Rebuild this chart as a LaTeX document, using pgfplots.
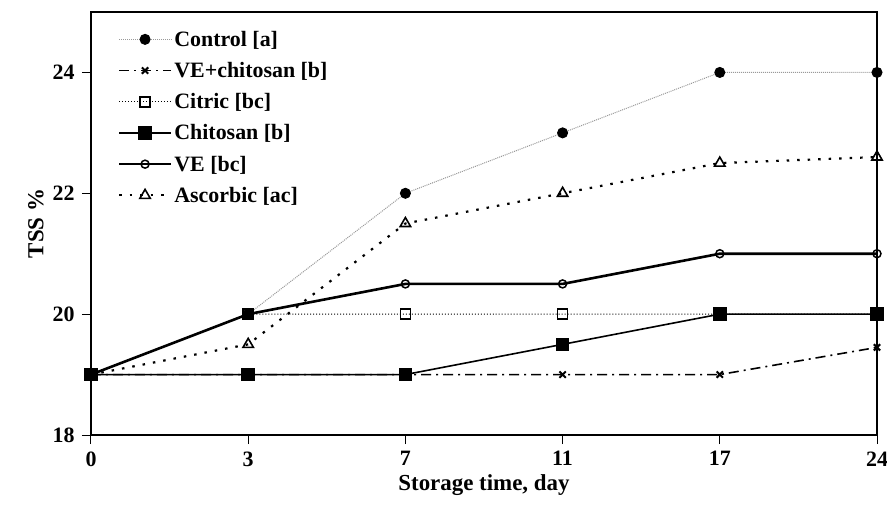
\documentclass[border=0pt]{standalone}
\usepackage{pgfplots}
\pgfplotsset{compat=1.18}
\usepackage{fontspec}
\setmainfont{Liberation Serif}

% TSS values per storage day (categories 0..5)
\pgfplotstableread{
x control vechit citric chitosan ve ascorbic
0 19 19    19 19   19   19
1 20 19    20 19   20   19.5
2 22 19    20 19   20.5 21.5
3 23 19    20 19.5 20.5 22
4 24 19    20 20   21   22.5
5 24 19.45 20 20   21   22.6
}\tss

\begin{document}
\begin{tikzpicture}
\begin{axis}[
  scale only axis,
  width=786bp, height=423bp,
  xmin=0, xmax=5, ymin=18, ymax=25,
  xtick={0,1,2,3,4,5},
  xticklabels={0,3,7,11,17,24},
  ytick={18,20,22,24},
  tick align=outside,
  xtick pos=bottom, ytick pos=left,
  major tick length=9bp,
  axis line style={line width=1.2bp},
  tick style={line width=1bp, black},
  font=\fontsize{23}{25}\selectfont\bfseries,
  /pgf/number format/assume math mode=true,
  tick label style={font=\fontsize{22}{24}\selectfont\bfseries},
  xticklabel style={yshift=-4bp},
  yticklabel style={xshift=-4bp},
  xlabel={Storage time, day},
  ylabel={TSS \%},
  xlabel style={yshift=-1bp},
  ylabel style={yshift=2bp},
  legend cell align=left,
  legend style={draw=none, fill=none, at={(0.03,0.965)}, anchor=north west,
    font=\fontsize{22}{24}\selectfont\bfseries, row sep=10.5bp,
    nodes={inner sep=2bp}},
  legend image code/.code={
    \draw[#1] (0bp,0bp) -- (26bp,0bp) -- (52bp,0bp);
    \draw[#1, draw=none] plot coordinates {(26bp,0bp)};
  },
]
\addplot[gray!80, line width=1bp, densely dotted, mark=*, mark size=5bp,
  mark options={solid, fill=black, draw=black}] table[x=x, y=control] {\tss};
\addlegendentry{Control [a]}
\addplot[black, line width=1.6bp, dash pattern=on 10bp off 5bp on 2bp off 5bp,
  mark=x, mark size=4.5bp, mark options={solid, line width=2bp}] table[x=x, y=vechit] {\tss};
\addlegendentry{VE+chitosan [b]}
\addplot[black, line width=1bp, dotted, mark=square, mark size=5bp,
  mark options={solid, fill=white, line width=1.5bp}] table[x=x, y=citric] {\tss};
\addlegendentry{Citric [bc]}
\addplot[black, line width=1.6bp, mark=square*, mark size=6bp,
  mark options={solid}] table[x=x, y=chitosan] {\tss};
\addlegendentry{Chitosan [b]}
\addplot[black, line width=2.6bp, mark=o, mark size=4bp,
  mark options={solid, fill=white, line width=1.5bp}] table[x=x, y=ve] {\tss};
\addlegendentry{VE [bc]}
\addplot[black, line width=2.2bp, dash pattern=on 2.5bp off 8bp, mark=triangle,
  mark size=6bp, mark options={solid, fill=white, line width=1.6bp}] table[x=x, y=ascorbic] {\tss};
\addlegendentry{Ascorbic [ac]}
\coordinate (O) at (rel axis cs:0,0);
\end{axis}
\pgfresetboundingbox
\path[use as bounding box] ([shift={(-91bp,-73bp)}]O) rectangle ++(887bp,508bp);
\end{tikzpicture}
\end{document}
